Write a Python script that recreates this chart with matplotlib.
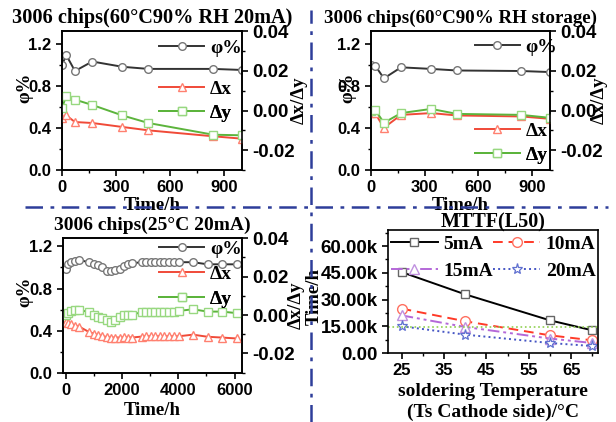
import matplotlib
matplotlib.use('Agg')
import matplotlib.pyplot as plt
from matplotlib.lines import Line2D
from matplotlib.ticker import MultipleLocator, FuncFormatter

# ---- data ----
# 60C 90%RH 20mA
t_a = [0, 24, 72, 168, 336, 480, 840, 1000]
phi_a = [1.00, 1.09, 0.94, 1.03, 0.98, 0.96, 0.96, 0.95]
dx_a = [-0.004, -0.0025, -0.0058, -0.0063, -0.0083, -0.0100, -0.0130, -0.0142]
dy_a = [0.0013, 0.0075, 0.0055, 0.0028, -0.0025, -0.0063, -0.0122, -0.0125]

# 60C 90%RH storage
t_b = [0, 24, 72, 168, 336, 480, 840, 1000]
phi_b = [1.00, 0.99, 0.87, 0.975, 0.96, 0.945, 0.94, 0.93]
dx_b = [-0.0013, -0.0015, -0.0087, -0.0022, -0.0013, -0.0025, -0.0030, -0.0042]
dy_b = [0.0000, 0.0003, -0.0062, -0.0013, 0.0008, -0.0017, -0.0022, -0.0037]

# 25C 20mA
t_c = [0, 90, 180, 320, 480, 840, 1000, 1150, 1300, 1460, 1620, 1760, 1920, 2080,
       2220, 2360, 2700, 2860, 3020, 3180, 3340, 3500, 3680, 3840, 4040, 4520,
       5040, 5540, 6080]
phi_c = [0.99, 1.03, 1.05, 1.06, 1.07, 1.05, 1.03, 1.02, 1.00, 0.97, 0.97, 0.98,
         0.99, 1.01, 1.03, 1.04, 1.05, 1.05, 1.05, 1.05, 1.05, 1.05, 1.05, 1.05,
         1.05, 1.05, 1.03, 1.03, 1.03]
dx_c = [-0.0035, -0.0040, -0.0047, -0.0055, -0.0060, -0.0089, -0.0097, -0.0105,
        -0.0110, -0.0114, -0.0117, -0.0117, -0.0117, -0.0115, -0.0117, -0.0117,
        -0.0112, -0.0110, -0.0110, -0.0110, -0.0110, -0.0110, -0.0110, -0.0110,
        -0.0110, -0.0102, -0.0113, -0.0117, -0.0122]
dy_c = [0.0002, 0.0010, 0.0022, 0.0027, 0.0027, 0.0015, 0.0000, -0.0010, -0.0017,
        -0.0027, -0.0034, -0.0024, -0.0010, 0.0000, 0.0000, 0.0002, 0.0015, 0.0018,
        0.0018, 0.0018, 0.0018, 0.0018, 0.0018, 0.0018, 0.0022, 0.0030, 0.0018,
        0.0018, 0.0010]

# MTTF(L50)
temps = [25, 40, 60, 70]
temp_ticks = [25, 35, 45, 55, 65]
mttf_5 = [45400, 32900, 18300, 12700]
mttf_10 = [24900, 17800, 9900, 7100]
mttf_15 = [21100, 14600, 8100, 5600]
mttf_20 = [15000, 10300, 5600, 3900]
mttf_ref = 14600

SERIF = 'Liberation Serif'
SANS = 'Liberation Sans'
plt.rcParams['font.family'] = SANS
plt.rcParams['font.weight'] = 'bold'
plt.rcParams['axes.linewidth'] = 1.2

fig = plt.figure(figsize=(6.16, 4.22), dpi=100)


def rect(l, t, r, b):
    return [l / 616, 1 - b / 422, (r - l) / 616, (b - t) / 422]


def style_ticks(ax, ysize=12):
    ax.tick_params(direction='out', length=4, width=1.2, labelsize=12)
    ax.tick_params(axis='y', labelsize=ysize)
    ax.tick_params(which='minor', direction='out', length=2.5, width=1.0)
    for lab in ax.get_xticklabels() + ax.get_yticklabels():
        lab.set_fontweight('bold')


def entry(ax, h, label, x, y):
    leg = ax.legend([h], [label], loc='center left', bbox_to_anchor=(x, y),
                    frameon=False, borderpad=0, borderaxespad=0,
                    handlelength=2.3, handletextpad=0.3,
                    prop={'family': SERIF, 'weight': 'bold', 'size': 14})
    ax.add_artist(leg)


def time_panel(r, t, phi, dx, dy, title, tsize, xlim, ylim_l, ylim_r, xmaj, xmin,
               leg_pos, lab_l, lab_r, xpad):
    ax = fig.add_axes(rect(*r))
    ax2 = ax.twinx()
    lp, = ax.plot(t, phi, color='#333333', lw=1.4, marker='o', ms=5.5,
                  mfc='white', mec='#777777', mew=1.0)
    lx, = ax2.plot(t, dx, color='#f04a38', lw=1.4, marker='^', ms=5.5,
                   mfc='white', mec='#ff8070', mew=1.0)
    ly, = ax2.plot(t, dy, color='#5cb43c', lw=1.4, marker='s', ms=5.5,
                   mfc='white', mec='#98d880', mew=1.0)
    ax.set_xlim(*xlim)
    ax.set_ylim(*ylim_l)
    ax2.set_ylim(*ylim_r)
    ax.xaxis.set_major_locator(MultipleLocator(xmaj))
    ax.xaxis.set_minor_locator(MultipleLocator(xmin))
    ax.yaxis.set_major_locator(MultipleLocator(0.4))
    ax.yaxis.set_minor_locator(MultipleLocator(0.2))
    ax2.yaxis.set_major_locator(MultipleLocator(0.02))
    ax2.yaxis.set_minor_locator(MultipleLocator(0.01))
    ax.yaxis.set_major_formatter(FuncFormatter(lambda v, p: f'{v:.1f}'))
    ax2.yaxis.set_major_formatter(FuncFormatter(lambda v, p: f'{v:.2f}'))
    style_ticks(ax)
    style_ticks(ax2, ysize=13.5)
    ax.set_title(title, family=SERIF, weight='bold', fontsize=tsize, pad=6)
    ax.set_xlabel('Time/h', family=SERIF, weight='bold', fontsize=13.5, labelpad=xpad)
    ax.set_ylabel('φ%', family=SERIF, weight='bold', fontsize=13.5)
    ax2.set_ylabel('Δx/Δy', family=SERIF, weight='bold', fontsize=13.5)
    ax.yaxis.set_label_coords(*lab_l)
    ax2.yaxis.set_label_coords(*lab_r)
    for h, lab, y in zip([lp, lx, ly], ['φ%', 'Δx', 'Δy'], leg_pos[1]):
        entry(ax2, h, lab, leg_pos[0], y)
    return ax, ax2


time_panel((62, 31, 242, 170), t_a, phi_a, dx_a, dy_a,
           '3006 chips(60°C90% RH 20mA)', 14.6, (0, 1000), (0, 1.32), (-0.03, 0.0401),
           300, 150, (0.54, [0.878, 0.583, 0.41]), (-0.16, 0.59), (1.272, 0.5), 1)
time_panel((371, 31, 550, 170), t_b, phi_b, dx_b, dy_b,
           '3006 chips(60°C90% RH storage)', 13.7, (0, 1000), (0, 1.32), (-0.03, 0.0401),
           300, 150, (0.58, [0.885, 0.28, 0.108]), (-0.084, 0.59), (1.229, 0.5), 1)
time_panel((62.5, 238, 241.7, 372.7), t_c, phi_c, dx_c, dy_c,
           '3006 chips(25°C 20mA)', 14, (-110, 6250), (0, 1.28), (-0.03, 0.0401),
           2000, 1000, (0.54, [0.92, 0.734, 0.548]), (-0.165, 0.6), (1.256, 0.5), 3)

# ---- MTTF panel ----
ax4 = fig.add_axes(rect(388, 230, 598, 353))
h5, = ax4.plot(temps, mttf_5, color='black', lw=1.4, ls='-', marker='s', ms=6,
               mfc='white', mec='#666666', mew=1.0)
h10, = ax4.plot(temps, mttf_10, color='#ff3a28', lw=1.4, ls=(0, (5, 3)), marker='o',
                ms=7, mfc='white', mec='#ff7060', mew=1.0)
h15, = ax4.plot(temps, mttf_15, color='#b468d8', lw=1.4, ls=(0, (6, 2, 1.5, 2, 1.5, 2)),
                marker='^', ms=7, mfc='white', mec='#c090e0', mew=1.0)
h20, = ax4.plot(temps, mttf_20, color='#4656c4', lw=1.4, ls=':', marker='*', ms=8,
                mfc='white', mec='#6070d0', mew=0.9)
ax4.axhline(mttf_ref, color='#90d050', lw=1.2, ls=':')
ax4.set_xlim(21.8, 71.3)
ax4.set_ylim(0, 69000)
ax4.set_xticks(temp_ticks)
ax4.xaxis.set_minor_locator(MultipleLocator(5))
ax4.yaxis.set_major_locator(MultipleLocator(15000))
ax4.yaxis.set_minor_locator(MultipleLocator(7500))
ax4.yaxis.set_major_formatter(FuncFormatter(
    lambda v, p: '0.00' if v == 0 else f'{v / 1000:.2f}k'))
style_ticks(ax4, ysize=13.5)
ax4.set_title('MTTF(L50)', family=SERIF, weight='bold', fontsize=14.5, y=1.0, pad=2)
ax4.set_xlabel('soldering Temperature\n(Ts Cathode side)/°C', family=SERIF,
               weight='bold', fontsize=14, linespacing=1.3, labelpad=3)
ax4.set_ylabel('Time/h', family=SERIF, weight='bold', fontsize=13.5)
ax4.yaxis.set_label_coords(-0.31, 0.46)
ax4.legend([h5, h15, h10, h20], ['5mA', '15mA', '10mA', '20mA'], ncol=2,
           loc='upper left', bbox_to_anchor=(0.015, 0.955), frameon=False,
           borderpad=0, borderaxespad=0, handlelength=2.4, handletextpad=0.3,
           columnspacing=0.0, labelspacing=0.45,
           prop={'family': SERIF, 'weight': 'bold', 'size': 14})

# ---- dash-dot separators ----
sep = dict(color='#2e3e9a', lw=1.8, ls=(0, (7, 3, 1.5, 3)), transform=fig.transFigure)
fig.add_artist(Line2D([25 / 616, 608 / 616], [1 - 207 / 422] * 2, **sep))
fig.add_artist(Line2D([311 / 616] * 2, [0, 1 - 10 / 422], **sep))

fig.savefig('out.png', dpi=100, facecolor='white')
